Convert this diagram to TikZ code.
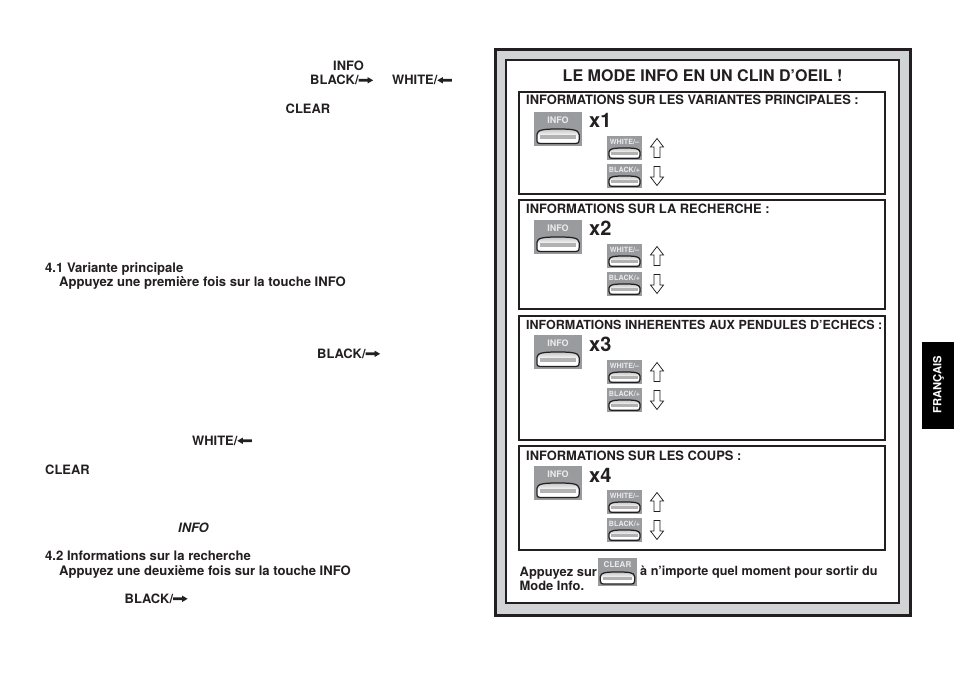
\documentclass[tikz,border=0pt]{standalone}
\usepackage{fontspec}
\setmainfont{TeX Gyre Heros}
\definecolor{panelgray}{HTML}{D2D3D5}
\definecolor{keygray}{HTML}{9A9B9E}
\definecolor{framek}{HTML}{231F20}
\newcommand{\txtsize}{\fontsize{12.9}{14}\bfseries\selectfont}
\newcommand{\lowsize}{\fontsize{13.08}{14}\bfseries\selectfont}
\tikzset{
  body/.style={anchor=base west,inner sep=0pt,font=\txtsize,text=framek},
  lowbody/.style={body,font=\lowsize},
  head/.style={anchor=base west,inner sep=0pt,font=\fontsize{16.05}{17}\bfseries\selectfont,text=framek},
  xcount/.style={anchor=base west,inner sep=0pt,font=\fontsize{20}{22}\bfseries\selectfont,text=framek},
  infobox/.style={draw=framek,line width=1.1pt,fill=white},
  keybg/.style={fill=keygray,draw=none},
  keytop/.style={draw=framek,line width=1.25pt,top color=gray!45,bottom color=white,middle color=white},
  keylab/.style={inner sep=0pt,text=white!92!black},
  hollow/.style={draw=framek,line width=.75pt,fill=white,line join=miter},
}
% name, x, y, w, h, label, label size
\newcommand{\keybtn}[7]{%
  \fill[keybg] (#2,#3) rectangle ++(#4,#5);
  \node[keylab,font=\fontsize{#7}{#7}\bfseries\selectfont] (#1lab) at ({#2+#4/2},{#3+#5*0.24}) {#6};
  \draw[keytop] ({#2+#4*0.06},{#3+#5*0.66}) .. controls ({#2+#4*0.07},{#3+#5*0.52}) and ({#2+#4*0.2},{#3+#5*0.50}) .. ({#2+#4*0.5},{#3+#5*0.50}) .. controls ({#2+#4*0.8},{#3+#5*0.50}) and ({#2+#4*0.93},{#3+#5*0.52}) .. ({#2+#4*0.94},{#3+#5*0.66}) -- ({#2+#4*0.94},{#3+#5*0.82}) .. controls ({#2+#4*0.94},{#3+#5*0.92}) and ({#2+#4*0.9},{#3+#5*0.93}) .. ({#2+#4*0.85},{#3+#5*0.93}) -- ({#2+#4*0.15},{#3+#5*0.93}) .. controls ({#2+#4*0.1},{#3+#5*0.93}) and ({#2+#4*0.06},{#3+#5*0.92}) .. ({#2+#4*0.06},{#3+#5*0.82}) -- cycle;
  \fill[gray!60] ({#2+#4*0.12},{#3+#5*0.68}) rectangle ({#2+#4*0.88},{#3+#5*0.78});
}
\newcommand{\arrowpair}[3]{% prefix, x, y of upper key
  \keybtn{#1w}{#2}{#3}{35}{24}{WHITE/–}{7.2}
  \keybtn{#1b}{#2}{\numexpr#3+28\relax}{35}{24}{BLACK/+}{7.2}
  \draw[hollow] ({#2+50},{#3+2.5}) -- ({#2+56.5},{#3+11}) -- ({#2+53},{#3+11}) -- ({#2+53},{#3+21.5}) -- ({#2+47},{#3+21.5}) -- ({#2+47},{#3+11}) -- ({#2+43.5},{#3+11}) -- cycle;
  \draw[hollow] ({#2+50},{#3+49.5}) -- ({#2+56.5},{#3+41}) -- ({#2+53},{#3+41}) -- ({#2+53},{#3+30.5}) -- ({#2+47},{#3+30.5}) -- ({#2+47},{#3+41}) -- ({#2+43.5},{#3+41}) -- cycle;
}
\newcommand{\rarr}{\tikz[x=1pt,y=1pt,baseline=-4.2pt]{\fill[framek] (0,-1.4) -- (9,-1.4) -- (9,-3.2) -- (14.5,0) -- (9,3.2) -- (9,1.4) -- (0,1.4) -- cycle;}}
\newcommand{\larr}{\tikz[x=-1pt,y=1pt,baseline=-4.2pt]{\fill[framek] (0,-1.4) -- (9,-1.4) -- (9,-3.2) -- (14.5,0) -- (9,3.2) -- (9,1.4) -- (0,1.4) -- cycle;}}
\begin{document}
\begin{tikzpicture}[x=1pt,y=-1pt]
\useasboundingbox (0,0) rectangle (954,674);
\fill[white] (0,0) rectangle (954,674);
% panel
\draw[framek,line width=3pt,fill=panelgray] (495.5,49.5) rectangle (910.5,615);
\draw[framek,line width=1.1pt,fill=white] (506,60) rectangle (899,603);
\node[head] (title) at (562.5,81.5) {LE MODE INFO EN UN CLIN D’OEIL !};
% boxes
\draw[infobox] (519,92) rectangle (885,194);
\draw[infobox] (519,200) rectangle (885,309);
\draw[infobox] (519,316) rectangle (885,440);
\draw[infobox] (519,446) rectangle (885,550);
\node[body] (h1) at (526,105) {INFORMATIONS SUR LES VARIANTES PRINCIPALES :};
\node[body] (h2) at (526,213.5) {INFORMATIONS SUR LA RECHERCHE :};
\node[body,font=\fontsize{12.5}{14}\bfseries\selectfont] (h3) at (526,329) {INFORMATIONS INHERENTES AUX PENDULES D’ECHECS :};
\node[body] (h4) at (526,460) {INFORMATIONS SUR LES COUPS :};
\keybtn{ia}{534}{112}{48}{34}{INFO}{9}
\keybtn{ib}{534}{220}{48}{34}{INFO}{9}
\keybtn{ic}{534}{335}{48}{34}{INFO}{9}
\keybtn{id}{534}{466}{48}{34}{INFO}{9}
\node[xcount] (xa) at (589,127.5) {x1};
\node[xcount] (xb) at (589,236) {x2};
\node[xcount] (xc) at (589,351.5) {x3};
\node[xcount] (xd) at (589,482) {x4};
\arrowpair{pa}{607}{136}
\arrowpair{pb}{607}{244}
\arrowpair{pc}{607}{360}
\arrowpair{pd}{607}{490}
\node[body] (ap) at (519.5,576) {Appuyez sur};
\keybtn{cl}{598}{558}{39}{28}{CLEAR}{8}
\node[body,font=\fontsize{12.65}{14}\bfseries\selectfont] (ar) at (640,575) {à n’importe quel moment pour sortir du};
\node[body] (mi) at (519.5,590) {Mode Info.};
% left text
\node[body] (t1) at (333,70.5) {INFO};
\node[body] (t2) at (310,84.5) {BLACK/\rarr};
\node[body] (t3) at (392,84.5) {WHITE/\larr};
\node[body] (t4) at (285.5,113.5) {CLEAR};
\node[lowbody] (t5) at (45,272) {4.1 Variante principale};
\node[lowbody] (t6) at (59,286) {Appuyez une première fois sur la touche INFO};
\node[body] (t7) at (317,358) {BLACK/\rarr};
\node[body] (t8) at (192,445) {WHITE/\larr};
\node[body] (t9) at (45,474) {CLEAR};
\node[body,font=\fontsize{12.9}{14}\bfseries\itshape\selectfont] (t10) at (178,532) {INFO};
\node[lowbody] (t11) at (45,560) {4.2 Informations sur la recherche};
\node[lowbody] (t12) at (59,575) {Appuyez une deuxième fois sur la touche INFO};
\node[body] (t13) at (124.5,603) {BLACK/\rarr};
% tab
\fill[black] (922,342) rectangle (954,429);
\node[inner sep=0pt,text=white,rotate=90,font=\fontsize{11.2}{12}\bfseries\selectfont] (fr) at (938.5,385) {FRANÇAIS};
\end{tikzpicture}
\end{document}
